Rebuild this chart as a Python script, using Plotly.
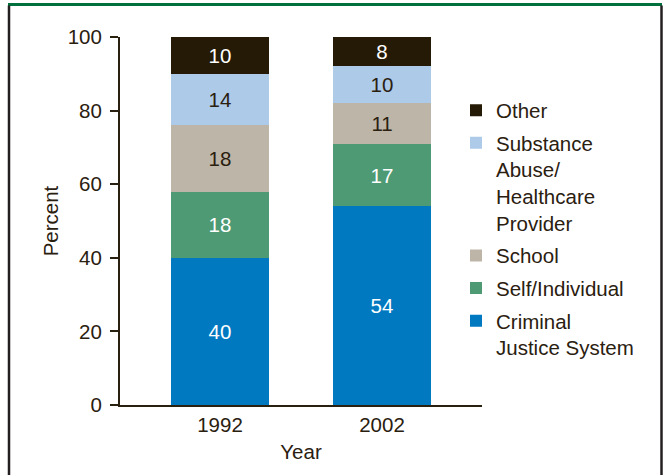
import plotly.graph_objects as go

# Source of referral to treatment, percent of admissions
years = ["1992", "2002"]
categories = [
    "Criminal<br>Justice System",
    "Self/Individual",
    "School",
    "Substance<br>Abuse/<br>Healthcare<br>Provider",
    "Other",
]
criminal_justice = [40, 54]
self_individual = [18, 17]
school = [18, 11]
substance_healthcare = [14, 10]
other = [10, 8]
y_ticks = [0, 20, 40, 60, 80, 100]

series = [criminal_justice, self_individual, school, substance_healthcare, other]
colors = ["#0079c1", "#4d9a74", "#bdb5a7", "#adcae9", "#251a05"]
label_colors = ["white", "white", "#2a2010", "#2a2010", "white"]

W, H = 665, 475
L, R, T, B = 120, 183, 36.5, 69.5
ink = "#2a2010"
font = "Liberation Sans, Arial, sans-serif"
fs = 20.5

fig = go.Figure()
n = len(categories)
for i, (name, vals, col, tcol) in enumerate(zip(categories, series, colors, label_colors)):
    fig.add_trace(go.Bar(
        x=years, y=vals, name=name, legendgroup=f"g{i}",
        legendrank=1000 + (n - i),
        marker=dict(color=col, line=dict(width=0)),
        text=[str(v) for v in vals],
        textposition="inside", insidetextanchor="middle",
        textangle=0, constraintext="none",
        textfont=dict(color=tcol, size=fs, family=font),
        width=0.6,
    ))

pw, ph = W - L - R, H - T - B


def px_x(px):
    return (px - L) / pw


def px_y(py):
    return (H - B - py) / ph


shapes = [
    # outer frame: green top rule, dark side rules
    dict(type="line", xref="paper", yref="paper", x0=px_x(8), x1=px_x(662),
         y0=px_y(4), y1=px_y(4), line=dict(color="#00703c", width=3)),
    dict(type="line", xref="paper", yref="paper", x0=px_x(9), x1=px_x(9),
         y0=px_y(5), y1=px_y(476), line=dict(color="#231f20", width=2.5)),
    dict(type="line", xref="paper", yref="paper", x0=px_x(661.5), x1=px_x(661.5),
         y0=px_y(5), y1=px_y(476), line=dict(color="#231f20", width=2.5)),
]

fig.update_layout(
    barmode="stack",
    width=W, height=H,
    margin=dict(l=L, r=R, t=T, b=B, pad=0),
    paper_bgcolor="white", plot_bgcolor="white",
    font=dict(family=font, size=fs, color=ink),
    showlegend=True,
    legend=dict(
        x=px_x(456), y=px_y(90), xanchor="left", yanchor="top",
        traceorder="grouped", valign="top",
        font=dict(size=fs, color=ink, family=font),
        itemwidth=30, tracegroupgap=3, bgcolor="rgba(0,0,0,0)",
    ),
    xaxis=dict(
        range=[-0.617, 1.617], showline=True, linecolor=ink, linewidth=2,
        ticks="", showgrid=False, zeroline=False,
        title=dict(text="Year", standoff=10, font=dict(size=fs)),
        tickfont=dict(size=fs),
    ),
    yaxis=dict(
        range=[0, 100], tickvals=y_ticks, showline=True, linecolor=ink, linewidth=2,
        ticks="outside", ticklen=8, tickwidth=2, tickcolor=ink,
        ticklabelstandoff=4,
        showgrid=False, zeroline=False,
        title=dict(text="Percent", standoff=4, font=dict(size=fs)),
        tickfont=dict(size=fs),
    ),
    shapes=shapes,
)

fig.write_html("out.html")
